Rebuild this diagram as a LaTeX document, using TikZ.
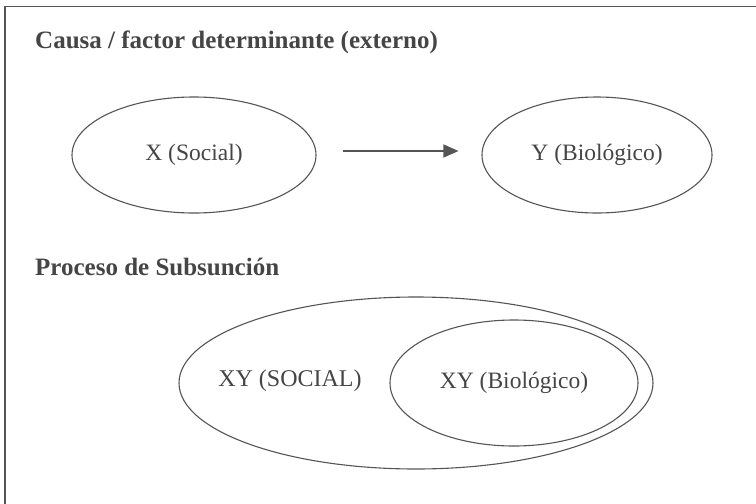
\documentclass[tikz,border=0pt]{standalone}
\usepackage{fontspec}
\setmainfont{Liberation Serif}
\usetikzlibrary{shapes.geometric,arrows.meta}
\definecolor{ink}{HTML}{454545}
\definecolor{rule}{HTML}{555555}
\begin{document}
\begin{tikzpicture}[x=1pt,y=-1pt,
  heading/.style={anchor=base west,inner sep=0pt,text=ink,font=\fontsize{25}{30}\selectfont\bfseries},
  oval/.style={ellipse,draw=rule,line width=1.1pt,inner sep=0pt,text=ink,font=\fontsize{23.5}{28}\selectfont},
  plain/.style={inner sep=0pt,text=ink,font=\fontsize{24}{28}\selectfont},
  flow/.style={draw=rule,line width=1.3pt,-{Triangle[length=15pt,width=13pt]}}]
\useasboundingbox (0,0) rectangle (756,504);
\fill[white] (0,0) rectangle (756,504);
% open frame: left and top rules
\draw[rule,line width=1.6pt] (5,504) -- (5,6.5) -- (756,6.5);

\node[heading] (t1) at (35,48) {Causa / factor determinante (externo)};
\node[oval,minimum width=244pt,minimum height=116pt] (X) at (194,155) {X (Social)};
\node[oval,minimum width=230pt,minimum height=116pt] (Y) at (597,155) {Y (Biológico)};
\draw[flow] ([xshift=26pt,yshift=4pt]X.east) -- ([xshift=-23pt,yshift=4pt]Y.west);

\node[heading] (t2) at (35,275) {Proceso de Subsunción};
\node[oval,minimum width=474pt,minimum height=172pt] (S) at (416,383) {};
\node[oval,minimum width=248pt,minimum height=126pt] (B) at (514,383) {XY (Biológico)};
\node[plain] (Stext) at (290,381) {XY (SOCIAL)};
\end{tikzpicture}
\end{document}
